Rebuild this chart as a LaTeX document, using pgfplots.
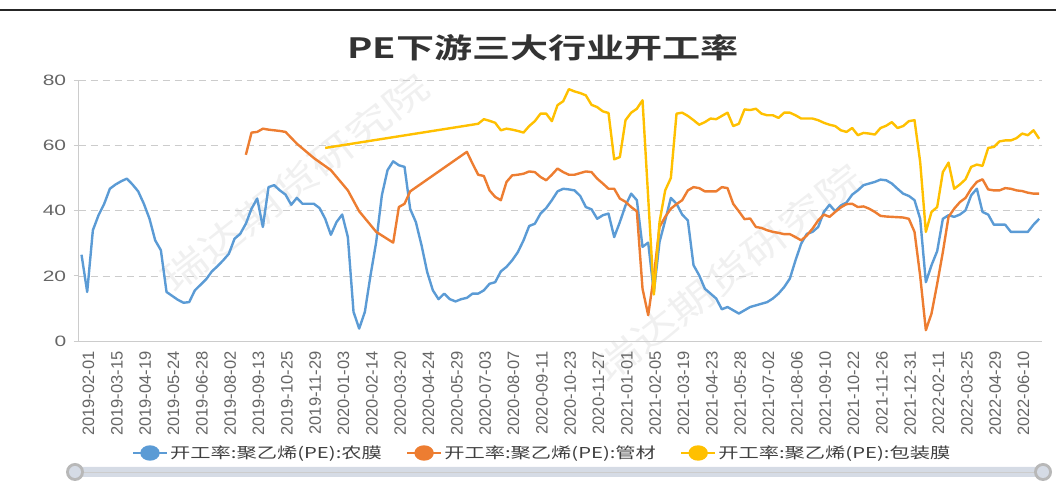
\documentclass[border=0pt]{standalone}
\usepackage{pgfplots}
\pgfplotsset{compat=1.18}
\usepackage{fontspec}
\setmainfont{Liberation Sans}
\newfontfamily\cjk{Noto Sans CJK SC}[FakeStretch=1.35]
\newfontfamily\cjkt{Noto Sans CJK SC Bold}[FakeStretch=1.36]
\newfontfamily\ytk{Liberation Sans}[FakeStretch=1.4]
\newfontfamily\wm{Noto Sans CJK SC}[FakeStretch=1.3]
\definecolor{cblue}{HTML}{5B9BD5}
\definecolor{corange}{HTML}{ED7D31}
\definecolor{cyellow}{HTML}{FFC000}
\definecolor{axgray}{HTML}{CCCCCC}
\definecolor{txtgray}{HTML}{666666}
\definecolor{slider}{HTML}{D5DBE5}
\begin{document}
\begin{tikzpicture}[x=1bp,y=1bp]
\path[use as bounding box] (0,0) rectangle (1056,483);
\draw[line width=2.2bp, black!85] (0,473) -- (1056,473);
% watermarks
\node[rotate=38, text=black!6, font=\wm\fontsize{36bp}{36bp}\selectfont] at (295,300) {瑞达期货研究院};
\node[rotate=38, text=black!6, font=\wm\fontsize{36bp}{36bp}\selectfont] at (728,210) {瑞达期货研究院};
\node[text=black!80, font=\cjkt\fontsize{28bp}{28bp}\selectfont] at (543,435) {PE下游三大行业开工率};
% slider
\fill[slider, rounded corners=4bp] (75,6) rectangle (1043,16);
\draw[black!20, line width=0.8bp] (75,11) -- (1043,11);
\fill[black!28] (75,11) circle (9);
\fill[slider] (75,11) circle (6);
\fill[black!28] (1043,11) circle (9);
\fill[slider] (1043,11) circle (6);
\begin{axis}[
  at={(78.7bp,141.7bp)}, anchor=south west, scale only axis,
  width=963.3bp, height=261.3bp,
  xmin=-0.5, xmax=169.5, ymin=0, ymax=80,
  axis x line*=bottom, axis y line*=left,
  axis line style={axgray, line width=1bp},
  ytick={0,20,40,60,80},
  ymajorgrids, grid style={axgray, dashed, dash pattern=on 7bp off 5bp, line width=0.8bp},
  yticklabel style={font=\ytk\fontsize{15bp}{15bp}\selectfont, text=txtgray, xshift=-4bp},
  /pgf/number format/assume math mode=true,
  ytick style={axgray, line width=1bp},
  tick align=outside, major tick length=5bp,
  xtick={0,5,...,165},
  xticklabels={2019-02-01,2019-03-15,2019-04-19,2019-05-24,2019-06-28,2019-08-02,2019-09-13,2019-10-25,2019-11-29,2020-01-03,2020-02-14,2020-03-20,2020-04-24,2020-05-29,2020-07-03,2020-08-07,2020-09-11,2020-10-23,2020-11-27,2021-01-01,2021-02-05,2021-03-19,2021-04-23,2021-05-28,2021-07-02,2021-08-06,2021-09-10,2021-10-22,2021-11-26,2021-12-31,2022-02-11,2022-03-25,2022-04-29,2022-06-10},
  xticklabel style={rotate=90, anchor=east, font=\fontsize{16.5bp}{16.5bp}\selectfont, text=txtgray, yshift=-7bp, xshift=-1.5bp},
  xtick style={draw=none},
  extra x ticks={2.5,7.5,...,167.5},
  extra x tick labels={},
  extra x tick style={xtick style={axgray, line width=1bp}, grid=none},
  legend style={at={(0.481,-0.4275)}, anchor=center, draw=none, fill=none,
    legend columns=3, font=\cjk\fontsize{15bp}{15bp}\selectfont, text=black!75,
    /tikz/every even column/.append style={column sep=22bp}},
  legend image code/.code={\draw[line width=2.4bp] (0bp,0bp) -- (34bp,0bp); \fill (17bp,0bp) ellipse (8.5bp and 6.5bp);},
  every axis plot/.append style={line width=2.4bp, no marks, line join=round},
]
\addplot[cblue] coordinates {
(0,26.5)(1,15.1)(2,34.0)(3,38.6)(4,42.1)(5,46.7)(6,48.0)(7,49.0)(8,49.8)(9,48.0)
(10,45.9)(11,42.1)(12,37.5)(13,30.9)(14,27.9)(15,15.1)(16,13.9)(17,12.7)(18,11.8)(19,12.0)
(20,15.6)(21,17.3)(22,19.0)(23,21.4)(24,23.0)(25,24.8)(26,26.8)(27,31.4)(28,32.9)(29,36.0)
(30,40.6)(31,43.7)(32,35.0)(33,47.2)(34,47.8)(35,46.2)(36,44.9)(37,41.8)(38,43.9)(39,42.1)
(40,42.1)(41,42.1)(42,40.8)(43,37.5)(44,32.6)(45,36.5)(46,38.8)(47,31.9)(48,9.0)(49,3.9)
(50,9.0)(51,20.2)(52,30.4)(53,44.7)(54,52.4)(55,55.1)(56,53.9)(57,53.4)(58,40.5)(59,36.5)
(60,29.4)(61,21.2)(62,15.6)(63,12.9)(64,14.6)(65,12.9)(66,12.2)(67,12.9)(68,13.3)(69,14.6)
(70,14.6)(71,15.6)(72,17.6)(73,18.1)(74,21.4)(75,22.8)(76,24.8)(77,27.3)(78,30.9)(79,35.3)
(80,36.0)(81,39.1)(82,40.8)(83,43.2)(84,45.9)(85,46.7)(86,46.5)(87,46.2)(88,44.5)(89,41.1)
(90,40.4)(91,37.5)(92,38.6)(93,39.1)(94,31.9)(95,36.5)(96,41.6)(97,45.2)(98,43.2)(99,28.9)
(100,30.2)(101,15.0)(102,30.4)(103,37.0)(104,43.9)(105,42.1)(106,38.8)(107,37.0)(108,23.3)(109,20.2)
(110,16.1)(111,14.6)(112,13.1)(113,9.8)(114,10.5)(115,9.5)(116,8.5)(117,9.5)(118,10.5)(119,11.0)
(120,11.5)(121,12.0)(122,13.1)(123,14.6)(124,16.6)(125,19.2)(126,24.8)(127,29.9)(128,32.9)(129,33.5)
(130,35.0)(131,39.6)(132,41.8)(133,39.8)(134,41.6)(135,42.5)(136,44.9)(137,46.2)(138,47.8)(139,48.3)
(140,48.8)(141,49.5)(142,49.3)(143,48.3)(144,46.7)(145,45.2)(146,44.5)(147,43.2)(148,37.5)(149,18.1)
(150,23.3)(151,27.6)(152,37.5)(153,38.6)(154,38.1)(155,38.8)(156,40.1)(157,44.7)(158,46.7)(159,39.6)
(160,38.8)(161,35.7)(162,35.7)(163,35.7)(164,33.5)(165,33.5)(166,33.5)(167,33.5)(168,35.7)(169,37.5)
};
\addlegendentry{开工率:聚乙烯(PE):农膜}
\addplot[corange] coordinates {
(29,57.1)(30,63.9)(31,64.1)(32,65.1)(33,64.8)(34,64.6)(35,64.4)(36,64.1)(38,60.5)(41,56.1)
(44,52.4)(47,46.2)(49,39.8)(52,33.5)(55,30.2)(56,41.1)(57,42.1)(58,45.9)(68,58.0)(69,54.4)
(70,51.0)(71,50.6)(72,46.2)(73,44.2)(74,43.2)(75,48.8)(76,50.8)(77,51.0)(78,51.3)(79,52.0)
(80,51.8)(81,50.3)(82,49.3)(83,51.0)(84,52.9)(85,51.8)(86,51.0)(87,51.0)(88,51.5)(89,52.0)
(90,51.8)(91,49.8)(92,48.3)(93,46.7)(94,46.7)(95,43.7)(96,42.7)(97,41.1)(98,39.8)(99,16.1)
(100,8.0)(101,20.0)(102,35.0)(103,38.1)(104,40.6)(105,42.0)(106,43.2)(107,46.2)(108,47.2)(109,46.9)
(110,45.9)(111,45.9)(112,45.9)(113,47.2)(114,46.9)(115,42.1)(116,39.8)(117,37.4)(118,37.6)(119,35.0)
(120,34.7)(121,34.0)(122,33.5)(123,33.2)(124,32.8)(125,32.8)(126,31.9)(127,30.9)(128,32.4)(129,34.5)
(130,37.0)(131,38.8)(132,38.1)(133,39.6)(134,41.0)(135,42.0)(136,42.1)(137,41.1)(138,41.3)(139,40.6)
(140,39.6)(141,38.4)(142,38.2)(143,38.1)(144,38.0)(145,37.9)(146,37.5)(147,33.5)(148,20.0)(149,3.4)
(150,8.5)(151,17.6)(152,27.3)(153,38.1)(154,40.6)(155,42.6)(156,43.9)(157,46.7)(158,48.8)(159,49.6)
(160,46.5)(161,46.2)(162,46.2)(163,46.9)(164,46.7)(165,46.2)(166,46.0)(167,45.5)(168,45.2)(169,45.2)
};
\addlegendentry{开工率:聚乙烯(PE):管材}
\addplot[cyellow] coordinates {
(43,59.2)(70,66.6)(71,68.0)(72,67.5)(73,66.9)(74,64.6)(75,65.1)(76,64.8)(77,64.4)(78,63.9)(79,65.9)
(80,67.4)(81,69.7)(82,69.7)(83,67.4)(84,72.3)(85,73.5)(86,77.2)(87,76.5)(88,76.0)(89,75.3)
(90,72.4)(91,71.7)(92,70.4)(93,69.9)(94,55.7)(95,56.4)(96,67.7)(97,70.0)(98,71.2)(99,73.8)
(101,14.3)(102,36.5)(103,46.2)(104,50.0)(105,69.7)(106,70.0)(107,69.0)(108,67.7)(109,66.3)
(110,67.1)(111,68.2)(112,68.0)(113,69.0)(114,70.0)(115,65.9)(116,66.6)(117,71.0)(118,70.8)(119,71.2)
(120,69.7)(121,69.2)(122,69.2)(123,68.4)(124,70.0)(125,70.0)(126,69.2)(127,68.2)(128,68.2)(129,68.2)
(130,67.7)(131,66.9)(132,66.3)(133,65.9)(134,64.6)(135,64.1)(136,65.3)(137,63.1)(138,63.8)(139,63.6)
(140,63.3)(141,65.3)(142,66.0)(143,67.1)(144,65.3)(145,65.9)(146,67.4)(147,67.7)(148,54.9)(149,33.5)
(150,39.6)(151,41.1)(152,51.8)(153,54.7)(154,46.7)(155,48.0)(156,49.6)(157,53.4)(158,54.1)(159,53.7)
(160,59.2)(161,59.5)(162,61.2)(163,61.5)(164,61.5)(165,62.2)(166,63.6)(167,63.1)(168,64.6)(169,62.0)
};
\addlegendentry{开工率:聚乙烯(PE):包装膜}
\end{axis}
\end{tikzpicture}
\end{document}
